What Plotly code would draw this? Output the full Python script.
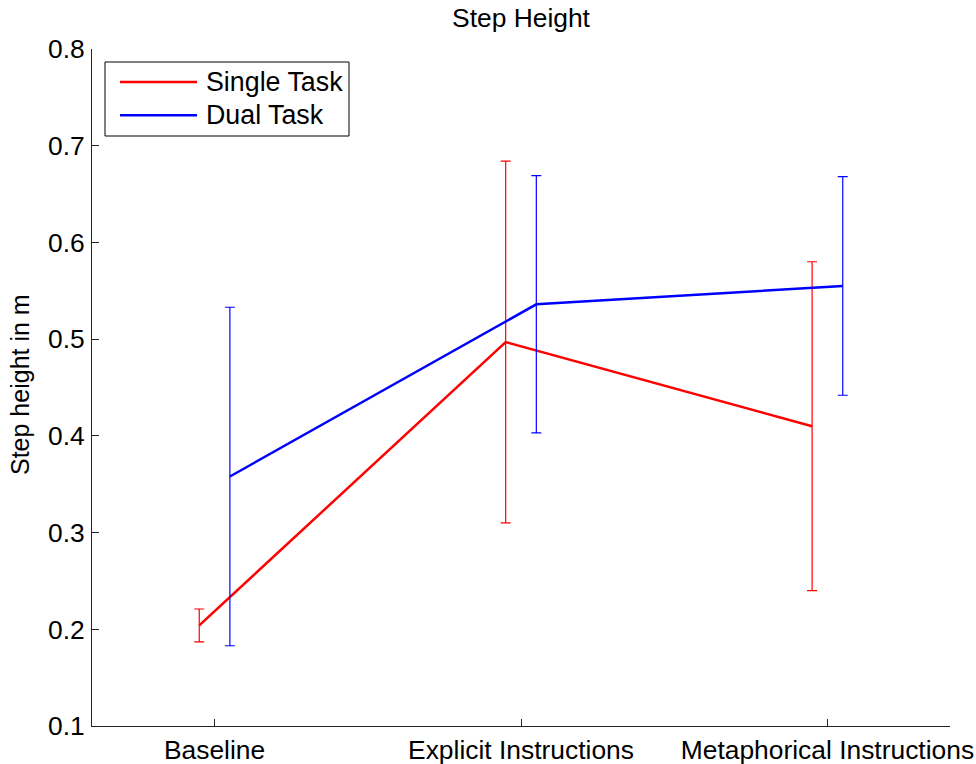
import plotly.graph_objects as go

# ---- data ----
categories = ["Baseline", "Explicit Instructions", "Metaphorical Instructions"]
cat_pos = [1, 2, 3]
series_names = ["Single Task", "Dual Task"]
single_mean = [0.204, 0.497, 0.410]
single_err = [0.017, 0.187, 0.170]
dual_mean = [0.358, 0.536, 0.555]
dual_err = [0.175, 0.133, 0.113]
y_ticks = [0.1, 0.2, 0.3, 0.4, 0.5, 0.6, 0.7, 0.8]

# ---- style / layout ----
W, H = 976, 764
ML, MR, MT, MB = 92, 26, 49, 38
PW, PH = W - ML - MR, H - MT - MB
FONT = "Liberation Sans, Arial, Helvetica, sans-serif"
RED, BLUE = "#FF0000", "#0000FF"
AXC = "#262626"
offsets = [-0.05, 0.05]


def px_x(p):
    return (p - ML) / PW


def px_y(p):
    return (H - MB - p) / PH


fig = go.Figure()
for name, mean, err, col, off in [
    (series_names[0], single_mean, single_err, RED, offsets[0]),
    (series_names[1], dual_mean, dual_err, BLUE, offsets[1]),
]:
    fig.add_trace(go.Scatter(
        x=[c + off for c in cat_pos], y=mean, name=name, mode="lines",
        line=dict(color=col, width=2.5),
        error_y=dict(type="data", array=err, symmetric=True, color=col,
                     thickness=1.2, width=5),
        showlegend=False, hoverinfo="skip",
    ))

# manual MATLAB-style legend
shapes = [dict(type="rect", xref="paper", yref="paper",
               x0=px_x(105), x1=px_x(349), y0=px_y(136), y1=px_y(62),
               line=dict(color="black", width=1), fillcolor="white", layer="above")]
annotations = []
for i, (name, col) in enumerate(zip(series_names, [RED, BLUE])):
    yy = 82 + i * 33.3
    shapes.append(dict(type="line", xref="paper", yref="paper",
                       x0=px_x(120), x1=px_x(197), y0=px_y(yy), y1=px_y(yy),
                       line=dict(color=col, width=2.5), layer="above"))
    annotations.append(dict(text=name, xref="paper", yref="paper",
                            x=px_x(204), y=px_y(yy), xanchor="left", yanchor="middle",
                            showarrow=False, font=dict(size=26.8, color="black", family=FONT)))

# y axis title
annotations.append(dict(text="Step height in m", xref="paper", yref="paper",
                        x=px_x(20), y=px_y(385), xanchor="center", yanchor="middle",
                        textangle=-90, showarrow=False,
                        font=dict(size=25, color="black", family=FONT)))

fig.update_layout(
    width=W, height=H,
    margin=dict(l=ML, r=MR, t=MT, b=MB, pad=0, autoexpand=False),
    paper_bgcolor="white", plot_bgcolor="white",
    font=dict(family=FONT, size=26, color="black"),
    title=dict(text="Step Height", x=521 / W, xanchor="center", xref="container",
               y=1 - 17.5 / H, yanchor="middle", yref="container",
               font=dict(size=26.4, color="black", family=FONT)),
    shapes=shapes, annotations=annotations,
    xaxis=dict(range=[0.6, 3.4], tickvals=cat_pos, ticktext=categories,
               showgrid=False, zeroline=False, showline=True, linecolor=AXC,
               linewidth=1, ticks="inside", ticklen=7, tickcolor=AXC,
               ticklabelstandoff=0, automargin=False,
               tickfont=dict(size=26.4, color="black", family=FONT)),
    yaxis=dict(range=[0.1, 0.8], tickvals=y_ticks, tickformat=".1f",
               showgrid=False, zeroline=False, showline=True, linecolor=AXC,
               linewidth=1, ticks="inside", ticklen=7, tickcolor=AXC,
               ticklabelstandoff=1, automargin=False,
               tickfont=dict(size=26.4, color="black", family=FONT)),
)

fig.write_html("out.html",
               config={"displayModeBar": False},
               post_script="document.body.style.margin='0';document.body.style.overflow='hidden';")
